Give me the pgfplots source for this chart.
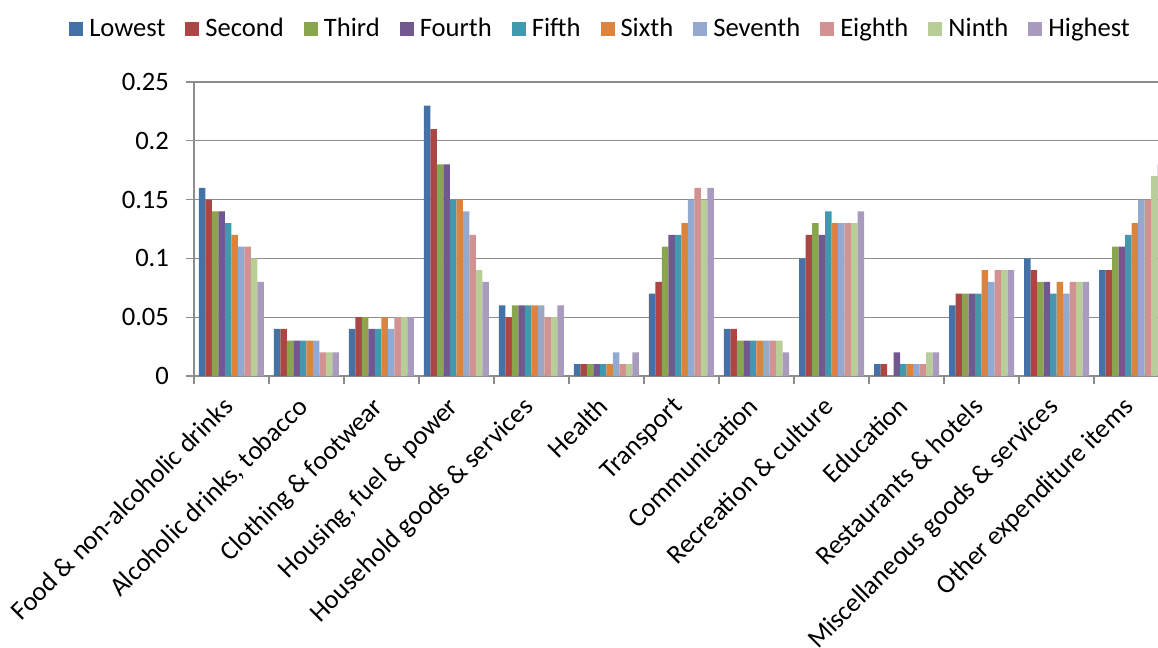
\documentclass[border=0pt]{standalone}
\usepackage{pgfplots}
\pgfplotsset{compat=1.18}
\usepackage{pgfplotstable}
\usepackage{fontspec}
\setmainfont{Carlito}

\definecolor{cLow}{RGB}{68,114,167}
\definecolor{cSec}{RGB}{170,70,67}
\definecolor{cThi}{RGB}{137,165,78}
\definecolor{cFou}{RGB}{113,88,143}
\definecolor{cFif}{RGB}{65,152,175}
\definecolor{cSix}{RGB}{219,132,61}
\definecolor{cSev}{RGB}{147,169,207}
\definecolor{cEig}{RGB}{209,146,145}
\definecolor{cNin}{RGB}{185,205,150}
\definecolor{cHig}{RGB}{169,155,189}
\definecolor{gridgray}{RGB}{140,140,140}

\newcommand{\chartfont}{\fontsize{13.3}{16}\selectfont}

% share of spending by income group, one row per category
\pgfplotstableread{
x  low  sec  thi  fou  fif  six  sev  eig  nin  hig
0  0.16 0.15 0.14 0.14 0.13 0.12 0.11 0.11 0.10 0.08
1  0.04 0.04 0.03 0.03 0.03 0.03 0.03 0.02 0.02 0.02
2  0.04 0.05 0.05 0.04 0.04 0.05 0.04 0.05 0.05 0.05
3  0.23 0.21 0.18 0.18 0.15 0.15 0.14 0.12 0.09 0.08
4  0.06 0.05 0.06 0.06 0.06 0.06 0.06 0.05 0.05 0.06
5  0.01 0.01 0.01 0.01 0.01 0.01 0.02 0.01 0.01 0.02
6  0.07 0.08 0.11 0.12 0.12 0.13 0.15 0.16 0.15 0.16
7  0.04 0.04 0.03 0.03 0.03 0.03 0.03 0.03 0.03 0.02
8  0.10 0.12 0.13 0.12 0.14 0.13 0.13 0.13 0.13 0.14
9  0.01 0.01 0.00 0.02 0.01 0.01 0.01 0.01 0.02 0.02
10 0.06 0.07 0.07 0.07 0.07 0.09 0.08 0.09 0.09 0.09
11 0.10 0.09 0.08 0.08 0.07 0.08 0.07 0.08 0.08 0.08
12 0.09 0.09 0.11 0.11 0.12 0.13 0.15 0.15 0.17 0.18
}\spend

\begin{document}
\begin{tikzpicture}
\begin{axis}[
  scale only axis,
  width=487.5pt, height=147pt,
  ybar=0pt, bar width=3.25pt,
  xmin=-0.5, xmax=12.5,
  ymin=0, ymax=0.25,
  axis lines*=left,
  axis line style={gridgray, line width=0.7pt},
  xtick={0,...,12},
  xticklabels={Food \& non-alcoholic drinks, {Alcoholic drinks, tobacco}, Clothing \& footwear,
    {Housing, fuel \& power}, Household goods \& services, Health, Transport, Communication,
    Recreation \& culture, Education, Restaurants \& hotels, Miscellaneous goods \& services,
    Other expenditure items},
  minor xtick={-0.5,0.5,...,12.5},
  major x tick style={draw=none},
  minor x tick style={gridgray, line width=0.7pt},
  minor tick length=4pt,
  ytick={0,0.05,0.1,0.15,0.2,0.25},
  yticklabels={0,0.05,0.1,0.15,0.2,0.25},
  major y tick style={gridgray, line width=0.7pt},
  major tick length=4pt,
  tick align=outside,
  ymajorgrids,
  grid style={gridgray, line width=0.7pt},
  every tick label/.append style={font=\chartfont},
  xticklabel style={xshift=-5pt, yshift=-4pt, rotate=45, anchor=north east, inner sep=1pt},
  yticklabel style={xshift=-5pt},
  legend columns=10,
  legend style={at={(rel axis cs:0.418,1.18)}, anchor=center, draw=none, fill=none,
    font=\chartfont, /tikz/every even column/.append style={column sep=8pt},
    /tikz/every odd column/.append style={column sep=1pt}},
  legend image code/.code={\fill[#1] (0pt,-3.5pt) rectangle (7pt,3.5pt);},
  every axis plot/.append style={draw=none},
]
\addplot[fill=cLow] table[x=x, y=low] {\spend};
\addplot[fill=cSec] table[x=x, y=sec] {\spend};
\addplot[fill=cThi] table[x=x, y=thi] {\spend};
\addplot[fill=cFou] table[x=x, y=fou] {\spend};
\addplot[fill=cFif] table[x=x, y=fif] {\spend};
\addplot[fill=cSix] table[x=x, y=six] {\spend};
\addplot[fill=cSev] table[x=x, y=sev] {\spend};
\addplot[fill=cEig] table[x=x, y=eig] {\spend};
\addplot[fill=cNin] table[x=x, y=nin] {\spend};
\addplot[fill=cHig] table[x=x, y=hig] {\spend};
\legend{Lowest, Second, Third, Fourth, Fifth, Sixth, Seventh, Eighth, Ninth, Highest}
\coordinate (O) at (rel axis cs:0,0);
\end{axis}
% the reference cuts the plot off at its right edge
\pgfresetboundingbox
\path[use as bounding box] (O) ++(-97pt,-136pt) rectangle ++(579pt,324pt);
\end{tikzpicture}
\end{document}
